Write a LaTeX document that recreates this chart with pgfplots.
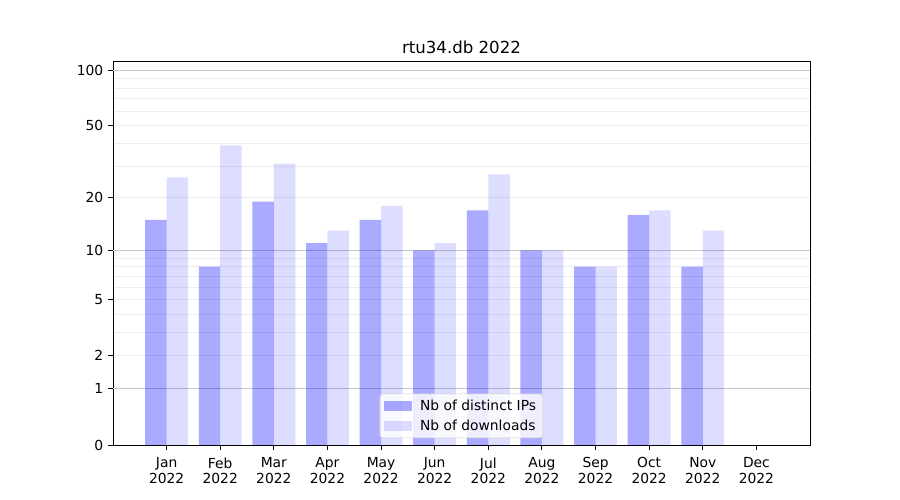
\documentclass[border=0pt]{standalone}
\usepackage{pgfplots}
\usepackage{pgfplotstable}
\pgfplotsset{compat=1.18}
\usepackage{fontspec}
\setmainfont{DejaVu Sans}

\pgfplotstableread{
x ips dl
0 15 26
1 8 39
2 19 31
3 11 13
4 15 18
5 10 11
6 17 27
7 10 10
8 8 8
9 16 17
10 8 13
11 0 0
}\datatable

\begin{document}
\begin{tikzpicture}
\useasboundingbox (-1.13in,-0.55in) rectangle (7.87in,4.45in);
\begin{axis}[
  at={(0,0)}, anchor=south west,
  scale only axis,
  width=6.97in, height=3.84in,
  xmin=-1, xmax=12,
  ymin=0, ymax=2.0535,
  xtick={0,...,11},
  xticklabels={{Jan\\2022},{Feb\\2022},{Mar\\2022},{Apr\\2022},{May\\2022},{Jun\\2022},{Jul\\2022},{Aug\\2022},{Sep\\2022},{Oct\\2022},{Nov\\2022},{Dec\\2022}},
  x tick label style={align=center, font=\fontsize{10}{11.5}\selectfont, yshift=-2pt},
  y tick label style={font=\fontsize{10}{12}\selectfont},
  ytick={0,0.30103,0.477121,0.778151,1.041393,1.322219,1.70757,2.004321},
  yticklabels={0,1,2,5,10,20,50,100},
  minor ytick={0.477121,0.60206,0.69897,0.778151,0.845098,0.90309,0.954243,1,1.322219,1.491362,1.612784,1.70757,1.78533,1.851258,1.908485,1.959041},
  yminorgrids,
  minor grid style={black!7, line width=0.6pt},
  minor tick length=0pt,
  extra y ticks={0.30103,1.041393,2.004321},
  extra y tick labels={},
  extra y tick style={grid=major, major tick length=0pt},
  major grid style={black!22, line width=0.6pt},
  tick align=outside,
  major tick length=3.5pt,
  xtick pos=bottom, ytick pos=left,
  axis line style={line width=0.7pt},
  every tick/.style={black, line width=0.7pt},
  title={rtu34.db 2022},
  title style={font=\fontsize{12}{14}\selectfont, yshift=-4pt},
  legend style={at={(0.5,0.018)}, anchor=south, draw=black!20, rounded corners=2pt,
    fill=white, fill opacity=0.8, text opacity=1, font=\fontsize{10}{12}\selectfont,
    row sep=1.5pt, column sep=4pt, inner xsep=3pt, inner ysep=2pt},
  legend cell align=left,
  legend image code/.code={\fill[#1, sharp corners] (0pt,-3.5pt) rectangle (20pt,3.5pt);},
]
\addplot[ybar, bar width=0.4, bar shift=-0.2, draw=none, fill=blue, fill opacity=0.333]
  table[x=x, y expr={log10(1+\thisrow{ips})}] {\datatable};
\addlegendentry{Nb of distinct IPs}
\addplot[ybar, bar width=0.4, bar shift=0.2, draw=none, fill=blue, fill opacity=0.133]
  table[x=x, y expr={log10(1+\thisrow{dl})}] {\datatable};
\addlegendentry{Nb of downloads}
\end{axis}
\end{tikzpicture}
\end{document}
